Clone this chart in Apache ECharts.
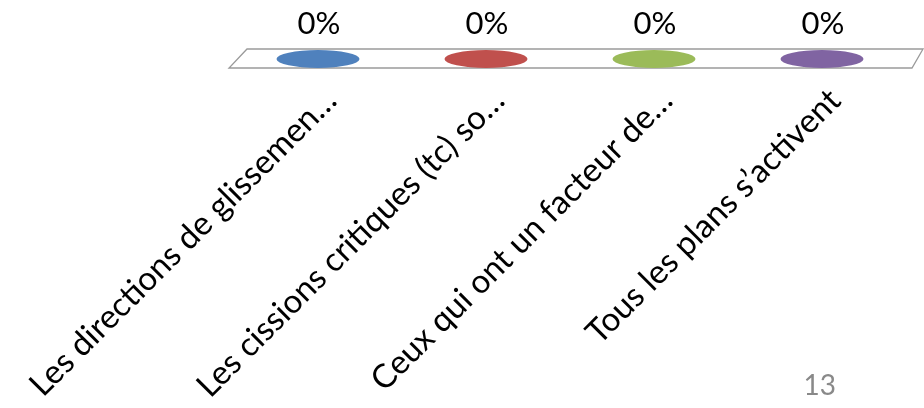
<!DOCTYPE html>
<html>
<head>
<meta charset="utf-8">
<script src="https://cdn.jsdelivr.net/npm/echarts@6/dist/echarts.min.js"></script>
<style>
  html, body { margin: 0; padding: 0; background: #fff; }
  #chart { width: 924px; height: 408px; }
</style>
</head>
<body>
<div id="chart"></div>
<script>
// Answer options and their vote shares (percent)
const categories = [
  'Les directions de glissemen\u2026',
  'Les cissions critiques (tc) so\u2026',
  'Ceux qui ont un facteur de\u2026',
  'Tous les plans s\u2019activent'
];
const shares = [0, 0, 0, 0];
const colors = ['#4F81BD', '#C0504D', '#9BBB59', '#8064A2'];
const pageNumber = '13';

const FONT = 'Lato, "Open Sans", sans-serif';

const chart = echarts.init(document.getElementById('chart'), null, { renderer: 'canvas' });

chart.setOption({
  animation: false,
  grid: { left: 234, right: 18, top: 10, bottom: 349 },
  xAxis: {
    type: 'category',
    data: categories,
    boundaryGap: true,
    show: false
  },
  yAxis: { type: 'value', min: 0, max: 100, show: false },
  graphic: [{
    type: 'text',
    right: 88,
    top: 372,
    style: { text: pageNumber, font: '28px ' + FONT, fill: '#898989' }
  }],
  series: [
    {
      // perspective floor under the bars
      type: 'custom',
      data: [[0, 0]],
      z: 1,
      renderItem: function (params, api) {
        const cs = params.coordSys;
        const base = cs.y + cs.height;
        return {
          type: 'polygon',
          shape: {
            points: [
              [cs.x - 5, base + 9],
              [cs.x + cs.width + 6, base + 9],
              [cs.x + cs.width + 17, base - 10],
              [cs.x + 13, base - 10]
            ]
          },
          style: { fill: '#ffffff', stroke: '#9a9a9a', lineWidth: 1.3 }
        };
      }
    },
    {
      // cylinder caps, value labels and rotated category labels
      type: 'custom',
      data: shares.map(function (v, i) { return [i, v]; }),
      z: 2,
      renderItem: function (params, api) {
        const i = api.value(0);
        const v = api.value(1);
        const p = api.coord([i, v]);
        const b = api.coord([i, 0]);
        return {
          type: 'group',
          children: [
            {
              type: 'circle',
              x: p[0], y: p[1],
              scaleY: 9 / 41.5,
              shape: { cx: 0, cy: 0, r: 41.5 },
              style: { fill: colors[i] }
            },
            {
              type: 'text',
              x: p[0] + 1, y: p[1] - 35,
              style: {
                text: v + '%',
                font: '31px ' + FONT,
                fill: '#000',
                align: 'center',
                verticalAlign: 'middle'
              }
            },
            {
              type: 'text',
              x: b[0] + 13, y: b[1] + 36,
              rotation: Math.PI / 4,
              style: {
                text: categories[i],
                font: '33px ' + FONT,
                fill: '#000',
                align: 'right',
                verticalAlign: 'middle'
              }
            }
          ]
        };
      }
    }
  ]
});
</script>
</body>
</html>
